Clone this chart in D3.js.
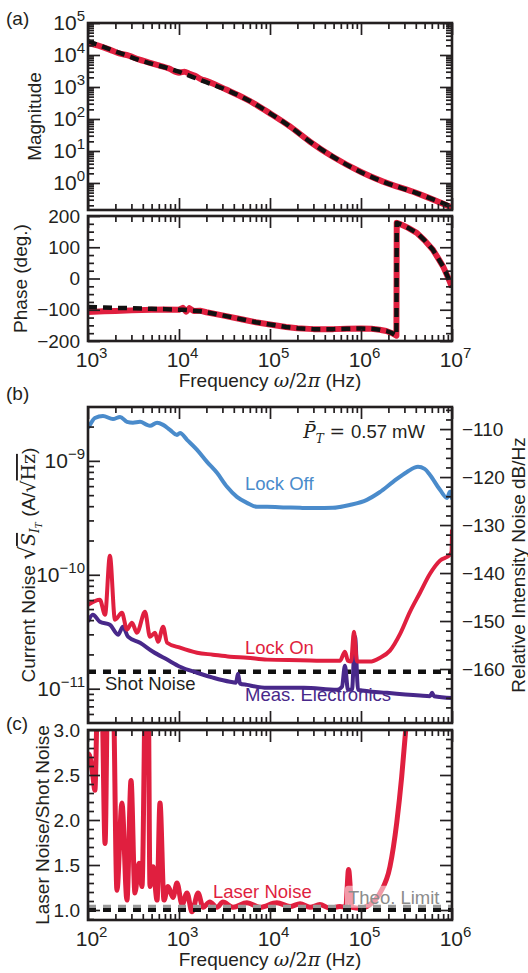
<!DOCTYPE html>
<html>
<head>
<meta charset="utf-8">
<script src="https://cdn.jsdelivr.net/npm/d3@7/dist/d3.min.js"></script>
<style>
  body { margin: 0; background: #fff; }
  text { font-family: 'Liberation Sans', Arial, Helvetica, sans-serif; fill: #231f20; }
  .math { font-family: 'DejaVu Serif', 'Liberation Serif', serif; font-style: italic; }
  .mathup { font-family: 'DejaVu Serif', 'Liberation Serif', serif; }
</style>
</head>
<body>
<script>
// (a) loop transfer function: measured (red) and model (dashed)
const magFreq = [1e3, 1.3e3, 1.7e3, 2.2e3, 2.8e3, 3.6e3, 4.6e3, 6e3, 7.7e3, 1e4, 1.15e4, 1.3e4, 1.5e4, 1.75e4, 2e4, 2.5e4, 3.3e4, 4.5e4, 6.5e4, 1e5, 1.66e5, 2.75e5, 4.9e5, 1e6, 1.75e6, 4.1e6, 1e7]
const magMeas = [2.4e4, 1.95e4, 1.5e4, 1.12e4, 9.6e3, 7.3e3, 5.9e3, 4.7e3, 3.8e3, 2.8e3, 3.0e3, 2.6e3, 2.25e3, 1.75e3, 1.55e3, 1.2e3, 8.3e2, 5.5e2, 3.2e2, 1.5e2, 58, 19.5, 6.6, 2.2, 1.1, 0.48, 0.17]
const magModelFreq = [1e3, 2.07e3, 3.7e3, 1e4, 1.7e4, 3.34e4, 6.5e4, 1e5, 1.66e5, 2.75e5, 4.92e5, 9.9e5, 1.75e6, 4.1e6, 1e7]
const magModel = [2.7e4, 1.26e4, 6.9e3, 3.0e3, 1.66e3, 8.1e2, 3.2e2, 1.5e2, 58, 19.5, 6.6, 2.2, 1.1, 0.48, 0.18]

const phaseFreq = [1e3, 1.5e3, 2e3, 3e3, 5e3, 7e3, 1e4, 1.1e4, 1.2e4, 1.3e4, 1.45e4, 1.7e4, 2e4, 3e4, 5e4, 7e4, 1e5, 1.5e5, 2e5, 3e5, 5e5, 7e5, 1e6, 1.3e6, 1.6e6, 1.9e6, 2.2e6, 2.45e6, 2.47e6, 2.8e6, 3.3e6, 4.1e6, 5e6, 6.2e6, 7e6, 8e6, 9e6, 1e7]
const phaseMeas = [-107, -105, -104, -102, -100, -99, -100, -94, -106, -95, -104, -103, -108, -118, -131, -140, -147, -155, -159, -162, -162, -161, -160, -161, -164, -168, -175, -183, 178, 172, 162, 146, 122, 91, 66, 38, 5, -28]
const phaseModel = [-91, -93, -94, -95, -97, -98, -100, -100, -101, -102, -103, -105, -108, -118, -131, -140, -147, -155, -159, -162, -162, -161, -160, -161, -164, -168, -175, -183, 178, 172, 162, 146, 122, 91, 66, 38, 5, -28]

// (b) current noise spectra, A/sqrt(Hz)
const offFreq = [100, 105, 119, 146, 188, 225, 268, 312, 373, 445, 480, 574, 669, 795, 950, 1026, 1225, 1580, 2032, 2615, 3370, 4330, 5585, 7190, 9270, 1.5e4, 2.14e4, 3.2e4, 4.92e4, 7.5e4, 1.16e5, 1.6e5, 2.25e5, 3.2e5, 4.23e5, 5.0e5, 5.73e5, 7.38e5, 8.81e5, 9.5e5, 1e6]
const offNoise = [1.95e-9, 2.07e-9, 2.38e-9, 2.48e-9, 2.33e-9, 2.43e-9, 2.20e-9, 2.16e-9, 2.20e-9, 2.07e-9, 2.03e-9, 2.16e-9, 2.07e-9, 1.87e-9, 1.69e-9, 1.76e-9, 1.53e-9, 1.25e-9, 9.8e-10, 7.85e-10, 5.92e-10, 4.83e-10, 4.28e-10, 3.95e-10, 3.95e-10, 3.9e-10, 3.87e-10, 3.85e-10, 3.87e-10, 4.1e-10, 4.55e-10, 5.3e-10, 6.54e-10, 8.0e-10, 8.86e-10, 8.5e-10, 7.53e-10, 5.57e-10, 4.73e-10, 5.35e-10, 4.6e-10]
const onFreq = [100, 135, 154, 174, 198, 236, 268, 304, 345, 423, 480, 545, 588, 669, 740, 1026, 1580, 2360, 3634, 5585, 9270, 2.14e4, 4.56e4, 5.87e4, 6.66e4, 7.19e4, 7.77e4, 8.37e4, 9.04e4, 1.25e5, 1.62e5, 2.08e5, 2.69e5, 3.45e5, 4.45e5, 5.73e5, 7.38e5, 9.5e5, 9.9e5, 1e6]
const onNoise = [5.46e-11, 6.04e-11, 4.46e-11, 1.47e-10, 4.03e-11, 4.64e-11, 3.30e-11, 3.79e-11, 3.10e-11, 4.73e-11, 2.86e-11, 3.10e-11, 2.58e-11, 3.50e-11, 2.53e-11, 2.29e-11, 2.07e-11, 1.99e-11, 1.91e-11, 1.87e-11, 1.80e-11, 1.78e-11, 1.76e-11, 1.76e-11, 2.11e-11, 1.76e-11, 1.73e-11, 3.16e-11, 1.73e-11, 1.73e-11, 1.87e-11, 2.16e-11, 3.03e-11, 4.73e-11, 6.95e-11, 1.02e-10, 1.33e-10, 1.50e-10, 1.6e-10, 2.49e-10]
const elecFreq = [100, 113, 135, 174, 214, 242, 275, 373, 518, 740, 1026, 1580, 2360, 3634, 4230, 4450, 4680, 5585, 9270, 2.36e4, 5.48e4, 6.18e4, 6.66e4, 7.19e4, 7.96e4, 8.6e4, 9.28e4, 1.93e5, 4.45e5, 5.73e5, 6.04e5, 6.35e5, 1e6]
const elecNoise = [3.87e-11, 4.46e-11, 3.87e-11, 3.64e-11, 2.98e-11, 3.50e-11, 2.86e-11, 2.53e-11, 2.11e-11, 1.80e-11, 1.56e-11, 1.38e-11, 1.25e-11, 1.15e-11, 1.13e-11, 1.35e-11, 1.11e-11, 1.08e-11, 1.02e-11, 1.02e-11, 9.8e-12, 1.04e-11, 1.59e-11, 9.8e-12, 9.8e-12, 2.86e-11, 9.8e-12, 9.2e-12, 8.7e-12, 8.6e-12, 9.2e-12, 8.6e-12, 8.3e-12]
const shotNoise = 1.41e-11

// (c) laser noise relative to shot noise
const ratioFreq = [100, 105, 113.5, 119, 129, 142, 154, 166, 188, 208, 236, 268, 297, 328, 363, 392, 434, 456, 480, 518, 574, 618, 684, 757, 859, 950, 1081, 1225, 1389, 1619, 1837, 2181, 2615, 3041, 3917, 5585, 7760, 1.19e4, 1.66e4, 2.14e4, 2.75e4, 3.53e4, 4.56e4, 5.87e4, 6.8e4, 7.3e4, 7.96e4, 9.7e4, 1.25e5, 1.62e5, 2.08e5, 2.47e5, 2.8e5, 3.1e5, 3.45e5]
const laserRatio = [2.74, 2.7, 2.48, 2.33, 3.6, 3.4, 1.74, 3.8, 3.6, 1.22, 2.19, 1.11, 2.44, 1.19, 1.52, 1.26, 3.8, 3.8, 1.26, 1.48, 1.11, 2.19, 1.11, 1.26, 1.14, 1.30, 1.06, 1.19, 0.98, 1.19, 1.03, 1.09, 1.03, 1.09, 1.03, 1.08, 1.03, 1.08, 1.04, 1.07, 1.03, 1.06, 1.02, 1.04, 1.03, 1.45, 1.03, 1.02, 1.06, 1.19, 1.48, 1.97, 2.48, 3.0, 3.6]
const shotRatio = 1.0
const theoLimit = 1.035

// tick values
const freqTicksA = [1e3, 1e4, 1e5, 1e6, 1e7]
const freqTicksB = [1e2, 1e3, 1e4, 1e5, 1e6]
const magTicks = [1e0, 1e1, 1e2, 1e3, 1e4, 1e5]
const phaseTicks = [-200, -100, 0, 100, 200]
const noiseTicks = [1e-11, 1e-10, 1e-9]
const rinTicks = [-110, -120, -130, -140, -150, -160]
const ratioTicks = [1.0, 1.5, 2.0, 2.5, 3.0]

const W = 528
const H = 973
const margin = { left: 88, right: 76 }
const plotW = W - margin.left - margin.right
const ink = '#231f20'
const red = '#e01f3f'
const blue = '#4a8bcb'
const purple = '#48288a'

const svg = d3.select('body').append('svg')
  .attr('width', W)
  .attr('height', H)
const defs = svg.append('defs')

const xA = d3.scaleLog().domain([1e3, 1e7]).range([0, plotW])
const xB = d3.scaleLog().domain([1e2, 1e6]).range([0, plotW])

function makePanel (id, top, h) {
  defs.append('clipPath').attr('id', id)
    .append('rect').attr('width', plotW).attr('height', h)
  const g = svg.append('g').attr('transform', 'translate(' + margin.left + ',' + top + ')')
  const plot = g.append('g').attr('clip-path', 'url(#' + id + ')')
  return { g, plot, h }
}

function logMinor (domain) {
  const lo = d3.min(domain)
  const hi = d3.max(domain)
  const out = []
  for (let e = Math.floor(Math.log10(lo)); e <= Math.ceil(Math.log10(hi)); e++) {
    for (let m = 2; m < 10; m++) {
      const v = m * Math.pow(10, e)
      if (v > lo && v < hi) out.push(v)
    }
  }
  return out
}

function ticks (p, axis, major, minor, translate) {
  const add = (vals, len) => p.g.append('g')
    .attr('transform', translate)
    .call(axis.tickValues(vals).tickSize(-len).tickFormat(''))
    .call(s => s.select('.domain').remove())
    .call(s => s.selectAll('line').attr('stroke', ink).attr('stroke-width', 1.7))
  add(major, 12)
  add(minor, 6)
}

function xTicks (p, x, major) {
  const minor = logMinor(x.domain())
  ticks(p, d3.axisBottom(x), major, minor, 'translate(0,' + p.h + ')')
  ticks(p, d3.axisTop(x), major, minor, 'translate(0,0)')
}

function powLabel (t, v) {
  const e = Math.round(Math.log10(v))
  t.append('tspan').text('10')
  t.append('tspan').attr('font-size', 15).attr('dy', -9)
    .text(e < 0 ? '\u2212' + (-e) : String(e))
}

function xLabels (p, x, vals) {
  vals.forEach(v => {
    const t = p.g.append('text')
      .attr('x', x(v) - 12.3)
      .attr('y', p.h + 26)
      .attr('font-size', 21)
    powLabel(t, v)
  })
}

function yLogLabels (p, y, vals) {
  vals.forEach(v => {
    const t = p.g.append('text')
      .attr('x', -3)
      .attr('y', y(v))
      .attr('dy', '0.35em')
      .attr('text-anchor', 'end')
      .attr('font-size', 21)
    powLabel(t, v)
  })
}

function yLinLabels (p, y, vals, fmt) {
  p.g.selectAll(null).data(vals).enter().append('text')
    .attr('x', -8)
    .attr('y', d => y(d))
    .attr('dy', '0.35em')
    .attr('text-anchor', 'end')
    .attr('font-size', 19)
    .text(fmt)
}

function frame (p) {
  p.g.append('rect')
    .attr('width', plotW)
    .attr('height', p.h)
    .attr('fill', 'none')
    .attr('stroke', ink)
    .attr('stroke-width', 2.6)
}

function curve (p, x, y, xs, ys, color, width, dash, kind) {
  const line = d3.line()
    .x(d => x(d[0]))
    .y(d => y(d[1]))
    .curve(kind || d3.curveMonotoneX)
  p.plot.append('path')
    .datum(d3.zip(xs, ys))
    .attr('d', line)
    .attr('fill', 'none')
    .attr('stroke', color)
    .attr('stroke-width', width)
    .attr('stroke-dasharray', dash || null)
    .attr('stroke-linejoin', 'round')
}

function freqTitle (p) {
  const t = p.g.append('text')
    .attr('x', plotW / 2)
    .attr('y', p.h + 46)
    .attr('text-anchor', 'middle')
    .attr('font-size', 19)
  t.append('tspan').text('Frequency ')
  t.append('tspan').attr('class', 'math').text('\u03c9')
  t.append('tspan').attr('class', 'mathup').text('/2')
  t.append('tspan').attr('class', 'math').text('\u03c0')
  t.append('tspan').text(' (Hz)')
}

function yTitle (x, y, txt) {
  return svg.append('text')
    .attr('transform', 'translate(' + x + ',' + y + ') rotate(-90)')
    .attr('text-anchor', 'middle')
    .attr('font-size', 19)
    .text(txt)
}

// ---- (a) magnitude
const pMag = makePanel('clipMag', 23, 187)
const yMag = d3.scaleLog().domain([0.143, 1e5]).range([pMag.h, 0])
curve(pMag, xA, yMag, magFreq, magMeas, red, 6)
curve(pMag, xA, yMag, magModelFreq, magModel, '#111', 4.5, '9,6')
xTicks(pMag, xA, freqTicksA)
ticks(pMag, d3.axisLeft(yMag), magTicks, logMinor(yMag.domain()), 'translate(0,0)')
ticks(pMag, d3.axisRight(yMag), magTicks, logMinor(yMag.domain()), 'translate(' + plotW + ',0)')
yLogLabels(pMag, yMag, magTicks)
frame(pMag)
yTitle(41, 116.5, 'Magnitude')

// ---- (a) phase
const pPh = makePanel('clipPh', 216, 125)
const yPh = d3.scaleLinear().domain([-200, 200]).range([pPh.h, 0])
curve(pPh, xA, yPh, phaseFreq, phaseMeas, red, 6, null, d3.curveLinear)
curve(pPh, xA, yPh, phaseFreq, phaseModel, '#111', 4.5, '9,6', d3.curveLinear)
xTicks(pPh, xA, freqTicksA)
const phMinor = d3.range(-200, 201, 25).filter(v => v % 100 !== 0)
ticks(pPh, d3.axisLeft(yPh), phaseTicks, phMinor, 'translate(0,0)')
ticks(pPh, d3.axisRight(yPh), phaseTicks, phMinor, 'translate(' + plotW + ',0)')
yLinLabels(pPh, yPh, phaseTicks, d => d < 0 ? '\u2212' + (-d) : d)
xLabels(pPh, xA, freqTicksA)
freqTitle(pPh)
frame(pPh)
yTitle(27, 278.5, 'Phase (deg.)')

// ---- (b) noise spectra
const pN = makePanel('clipN', 407, 316)
const yN = d3.scaleLog().domain([5.0e-12, 2.97e-9]).range([pN.h, 0])
const yRin = d3.scaleLinear().domain([-171.25, -105.4]).range([pN.h, 0])
pN.plot.append('line')
  .attr('x1', 0).attr('x2', plotW)
  .attr('y1', yN(shotNoise)).attr('y2', yN(shotNoise))
  .attr('stroke', '#111').attr('stroke-width', 4.5).attr('stroke-dasharray', '8,7')
curve(pN, xB, yN, offFreq, offNoise, blue, 4)
curve(pN, xB, yN, elecFreq, elecNoise, purple, 4)
curve(pN, xB, yN, onFreq, onNoise, red, 4)
xTicks(pN, xB, freqTicksB)
ticks(pN, d3.axisLeft(yN), noiseTicks, logMinor(yN.domain()), 'translate(0,0)')
ticks(pN, d3.axisRight(yRin), rinTicks, d3.range(-170, -105, 2).filter(v => v % 10 !== 0), 'translate(' + plotW + ',0)')
yLogLabels(pN, yN, noiseTicks)
pN.g.selectAll(null).data(rinTicks).enter().append('text')
  .attr('x', plotW + 10)
  .attr('y', d => yRin(d))
  .attr('dy', '0.35em')
  .attr('font-size', 19)
  .text(d => '\u2212' + (-d))
frame(pN)

const power = pN.g.append('text')
  .attr('x', 337).attr('y', 31)
  .attr('text-anchor', 'end')
  .attr('font-size', 18.5)
power.append('tspan').attr('class', 'math').text('P\u0304')
power.append('tspan').attr('class', 'math').attr('font-size', 12).attr('dy', 5).text('T')
power.append('tspan').attr('class', 'mathup').attr('dy', -5).text(' = ')
power.append('tspan').text('0.57 mW')

const note = (p, x, y, txt, color) => p.g.append('text')
  .attr('x', x).attr('y', y)
  .attr('font-size', 18.5)
  .style('fill', color)
  .text(txt)
note(pN, 157, 83, 'Lock Off', blue)
note(pN, 157, 247, 'Lock On', red)
note(pN, 17, 283, 'Shot Noise', ink)
note(pN, 157, 294, 'Meas. Electronics', purple)

const cn = svg.append('text')
  .attr('transform', 'translate(35,565) rotate(-90)')
  .attr('text-anchor', 'middle')
  .attr('font-size', 19)
cn.append('tspan').text('Current Noise ')
cn.append('tspan').attr('class', 'mathup').attr('font-size', 22).text('\u221a')
cn.append('tspan').attr('class', 'math').style('text-decoration', 'overline').text('S')
cn.append('tspan').attr('class', 'math').attr('font-size', 12).attr('dy', 4).text('I')
cn.append('tspan').attr('class', 'math').attr('font-size', 9).attr('dy', 3).text('T')
cn.append('tspan').attr('dy', -7).text(' (A/')
cn.append('tspan').attr('class', 'mathup').text('\u221a')
cn.append('tspan').attr('class', 'mathup').style('text-decoration', 'overline').text('Hz')
cn.append('tspan').text(')')
yTitle(525, 565, 'Relative Intensity Noise dB/Hz')

// ---- (c) ratio
const pR = makePanel('clipR', 730, 190)
const yR = d3.scaleLinear().domain([0.889, 3.0]).range([pR.h, 0])
curve(pR, xB, yR, ratioFreq, laserRatio, red, 5)
pR.plot.append('rect')
  .attr('x', 257).attr('y', yR(theoLimit) - 21)
  .attr('width', 110).attr('height', 22)
  .attr('rx', 3)
  .attr('fill', '#fff').attr('fill-opacity', 0.55)
pR.plot.append('line')
  .attr('x1', 0).attr('x2', plotW)
  .attr('y1', yR(theoLimit)).attr('y2', yR(theoLimit))
  .attr('stroke', '#9a9a9a').attr('stroke-width', 4).attr('stroke-dasharray', '8,7')
pR.plot.append('line')
  .attr('x1', 0).attr('x2', plotW)
  .attr('y1', yR(shotRatio)).attr('y2', yR(shotRatio))
  .attr('stroke', '#111').attr('stroke-width', 4).attr('stroke-dasharray', '8,7')
xTicks(pR, xB, freqTicksB)
const rMinor = d3.range(0.9, 3.0, 0.1).filter(v => Math.abs(v * 2 - Math.round(v * 2)) > 0.01)
ticks(pR, d3.axisLeft(yR), ratioTicks, rMinor, 'translate(0,0)')
ticks(pR, d3.axisRight(yR), ratioTicks, rMinor, 'translate(' + plotW + ',0)')
yLinLabels(pR, yR, ratioTicks, d3.format('.1f'))
xLabels(pR, xB, freqTicksB)
freqTitle(pR)
frame(pR)
note(pR, 125, 168, 'Laser Noise', red)
note(pR, 260, 174, 'Theo. Limit', '#8c8c8c')
yTitle(49, 825, 'Laser Noise/Shot Noise')

// panel letters
const letter = (y, txt) => svg.append('text')
  .attr('x', 6).attr('y', y)
  .attr('font-size', 19)
  .text(txt)
letter(25, '(a)')
letter(400, '(b)')
letter(730, '(c)')
</script>
</body>
</html>
